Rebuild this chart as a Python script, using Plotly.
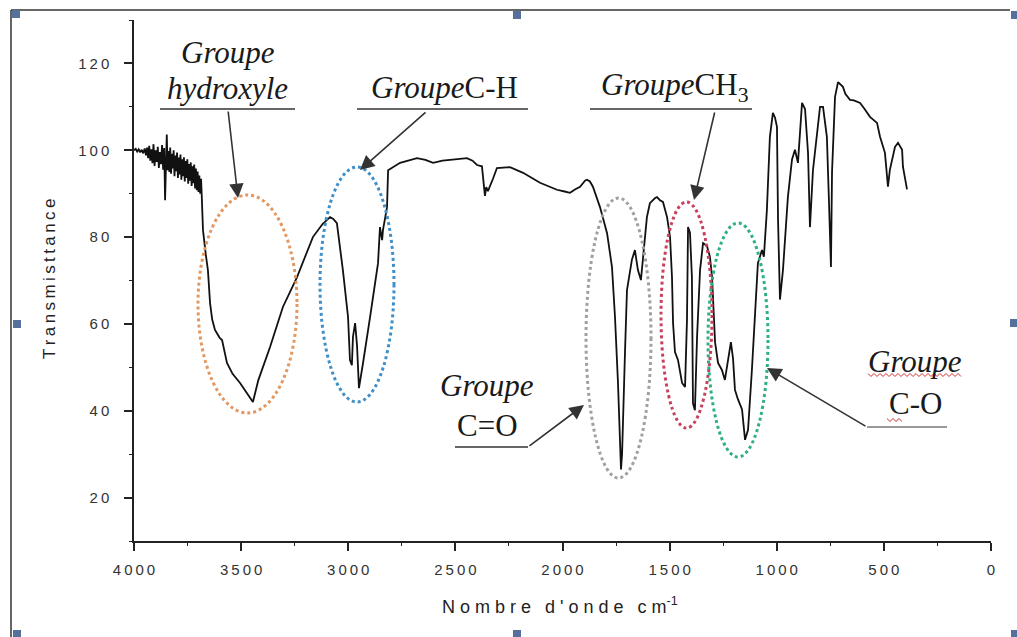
import plotly.graph_objects as go

# ---------------- data ----------------
# noisy high-wavenumber part
noise_wn = [
    4000, 3992, 3985, 3978, 3971, 3964, 3957, 3950, 3944, 3939, 3934, 3929, 3924, 3919, 3914, 3909,
    3904, 3899, 3894, 3889, 3884, 3879, 3874, 3869, 3864, 3859, 3855, 3851, 3847, 3843, 3839, 3835,
    3831, 3827, 3823, 3819, 3815, 3811, 3807, 3803, 3799, 3795, 3791, 3787, 3783, 3779, 3775, 3771,
    3767, 3763, 3759, 3755, 3751, 3747, 3743, 3739, 3735, 3731, 3727, 3723, 3719, 3715, 3711, 3707,
    3703, 3699, 3695, 3691, 3687, 3684,
]
noise_t = [
    100.0, 100.3, 99.7, 100.2, 99.5, 100.1, 99.3, 100.4, 98.8, 100.6, 98.2, 101.0, 97.6, 100.2, 97.0, 101.4,
    96.4, 100.0, 97.3, 100.8, 95.9, 99.6, 96.8, 101.2, 95.5, 100.5, 88.5, 98.0, 103.6, 95.4, 99.8, 95.0,
    100.6, 94.6, 99.2, 95.8, 100.0, 94.0, 98.8, 95.2, 99.5, 93.6, 98.3, 94.4, 99.0, 93.2, 97.9, 94.0,
    98.4, 92.8, 97.5, 93.6, 97.9, 92.3, 96.8, 93.0, 97.2, 91.8, 96.3, 92.4, 96.7, 91.2, 95.8, 90.8,
    95.1, 90.4, 94.2, 90.0, 93.4, 89.8,
]
# rest of the spectrum
body_wn = [
    3678, 3665, 3655, 3645, 3635, 3622, 3600, 3589, 3575, 3566, 3540, 3505, 3475, 3445, 3420,
    3365, 3305, 3239, 3165, 3120, 3085, 3070, 3053, 3025, 3001, 2992, 2983, 2978, 2968, 2963,
    2959, 2950, 2940, 2931, 2898, 2861, 2852, 2846, 2842, 2838, 2819, 2814, 2791, 2758, 2679,
    2640, 2604, 2560, 2525, 2480, 2446, 2420, 2399, 2376, 2368, 2362, 2356, 2348, 2324, 2306,
    2245, 2184, 2105, 2060, 2026, 1990, 1965, 1940, 1918, 1895, 1886, 1872, 1858, 1825, 1792,
    1769, 1755, 1741, 1732, 1727, 1722, 1718, 1708, 1699, 1676, 1662, 1655, 1648, 1634, 1624,
    1606, 1592, 1578, 1568, 1559, 1545, 1531, 1512, 1498, 1489, 1484, 1475, 1461, 1450, 1442,
    1428, 1419, 1414, 1405, 1396, 1391, 1382, 1372, 1358, 1344, 1326, 1312, 1302, 1288, 1274,
    1256, 1242, 1228, 1214, 1204, 1195, 1181, 1162, 1148, 1134, 1116, 1102, 1088, 1069, 1060,
    1046, 1032, 1018, 1008, 999, 994, 985, 971, 948, 929, 915, 901, 882, 868, 854, 845, 831,
    812, 798, 784, 766, 756, 747, 742, 728, 714, 691, 680, 658, 640, 611, 590, 565, 532, 518,
    495, 481, 472, 448, 434, 415, 411, 392,
]
body_t = [
    81.6, 76.0, 72.4, 64.8, 61.0, 58.6, 56.8, 56.3, 53.0, 51.0, 48.5, 46.4, 44.2, 42.0, 47.0,
    54.7, 63.9, 70.8, 80.0, 83.0, 84.6, 84.2, 83.2, 72.4, 61.6, 51.7, 50.5, 57.0, 60.2, 58.0,
    55.0, 45.2, 48.0, 51.0, 61.6, 74.0, 82.3, 80.5, 79.3, 81.6, 86.9, 95.4, 96.1, 97.1, 98.2,
    97.8, 97.1, 97.6, 97.8, 98.0, 98.2, 97.6, 96.6, 96.3, 93.0, 89.5, 91.5, 90.6, 93.5, 95.9,
    96.1, 94.8, 92.5, 91.5, 90.9, 90.5, 90.2, 91.0, 91.6, 93.0, 93.2, 92.8, 91.6, 86.9, 80.9,
    73.1, 61.6, 46.4, 33.3, 26.5, 30.0, 38.6, 54.0, 67.8, 74.8, 77.0, 75.0, 72.4, 70.1, 74.8,
    84.6, 87.8, 88.5, 89.0, 89.2, 88.5, 88.1, 84.6, 80.0, 70.8, 60.2, 53.5, 51.7, 48.0, 46.4,
    45.5, 60.9, 82.3, 81.0, 70.8, 41.7, 40.1, 57.0, 72.4, 78.6, 78.0, 75.5, 70.8, 55.8, 51.0,
    49.4, 47.1, 51.0, 55.8, 52.0, 44.8, 42.6, 40.3, 33.3, 35.6, 49.4, 60.9, 74.0, 77.0, 75.5,
    86.2, 103.1, 108.6, 107.5, 105.4, 84.0, 65.6, 72.4, 89.2, 97.8, 100.1, 97.1, 110.9, 109.5, 99.4, 82.3, 95.4,
    103.1, 110.0, 110.0, 103.1, 87.8, 73.1, 95.0, 112.3, 115.7, 114.6, 113.0, 111.6, 111.5, 110.9, 109.5, 107.7, 106.3, 103.1,
    99.4, 91.6, 95.5, 100.8, 101.7, 100.1, 96.2, 91.0,
]

x_tickvals = [4000, 3500, 3000, 2500, 2000, 1500, 1000, 500, 0]
x_ticktext = ["4\u20090\u20090\u20090", "3\u20095\u20090\u20090", "3\u20090\u20090\u20090",
              "2\u20095\u20090\u20090", "2\u20090\u20090\u20090", "1\u20095\u20090\u20090",
              "1\u20090\u20090\u20090", "5\u20090\u20090", "0"]
x_minor = [3750, 3250, 2750, 2250, 1750, 1250, 750, 250]
y_tickvals = [20, 40, 60, 80, 100, 120]
y_ticktext = ["2\u20090", "4\u20090", "6\u20090", "8\u20090", "1\u20090\u20090", "1\u20092\u20090"]
y_minor = [10, 30, 50, 70, 90, 110, 130]

x_title = "N o m b r e \u2002d ' o n d e \u2002c m<sup>-1</sup>"
y_title = "\u2009".join("Transmisttance")

wavenumber = noise_wn + body_wn
transmittance = noise_t + body_t

# ---------------- geometry helpers (pixel -> axis / paper) ----------------
W, H = 1017, 637
L, R, T, B = 134, 991, 20, 541
XMAX, XMIN, YMIN, YMAX = 4000, 0, 10, 130


def X(px):
    return XMAX - (px - L) * (XMAX - XMIN) / (R - L)


def Y(py):
    return YMAX - (py - T) * (YMAX - YMIN) / (B - T)


def PX(px):
    return (px - L) / (R - L)


def PY(py):
    return (B - py) / (B - T)


fig = go.Figure()
fig.add_trace(go.Scatter(x=wavenumber, y=transmittance, mode="lines",
                         line=dict(color="#111111", width=1.8), showlegend=False,
                         hoverinfo="skip"))
# invisible trace so the minor-tick overlay axes are drawn
fig.add_trace(go.Scatter(x=[None], y=[None], xaxis="x2", yaxis="y2", mode="lines",
                         showlegend=False, hoverinfo="skip"))

shapes = []
ellipses = [
    (198, 195, 297, 413, "#E3975E"),
    (320, 167, 394, 402, "#3F8FC8"),
    (586, 198, 651, 478, "#A0A0A0"),
    (661, 202, 712, 428, "#C8405C"),
    (708, 223, 768, 457, "#2EAF85"),
]
for x0, y0, x1, y1, c in ellipses:
    shapes.append(dict(type="circle", xref="x", yref="y", x0=X(x0), x1=X(x1), y0=Y(y1), y1=Y(y0),
                       line=dict(color=c, width=3, dash="dot")))

underlines = [
    (160, 109, 295, 109, "#333333"),
    (357, 109, 528, 109, "#333333"),
    (590, 109, 752, 109, "#333333"),
    (455, 447, 528, 447, "#333333"),
    (867, 427, 947, 427, "#777777"),
]
for x0, y0, x1, y1, c in underlines:
    shapes.append(dict(type="line", xref="x", yref="y", x0=X(x0), x1=X(x1), y0=Y(y0), y1=Y(y1),
                       line=dict(color=c, width=1.6)))


def squiggle(x0, x1, y, step=3, amp=1.5):
    pts = []
    px = x0
    up = True
    while px <= x1:
        pts.append((PX(px), PY(y - amp if up else y + amp)))
        up = not up
        px += step
    return "M " + " L ".join(f"{a:.5f},{b:.5f}" for a, b in pts)


shapes.append(dict(type="path", xref="paper", yref="paper", path=squiggle(868, 963, 375),
                   line=dict(color="#D03030", width=1)))
shapes.append(dict(type="path", xref="paper", yref="paper", path=squiggle(887, 904, 420),
                   line=dict(color="#D03030", width=1)))

shapes.append(dict(type="line", xref="paper", yref="paper", x0=PX(11), x1=PX(1010), y0=PY(10), y1=PY(10),
                   line=dict(color="#333333", width=1.5)))
shapes.append(dict(type="line", xref="paper", yref="paper", x0=PX(11), x1=PX(11), y0=PY(10), y1=PY(640),
                   line=dict(color="#333333", width=1.5)))
for hx, hy in [(16, 14), (517, 15), (1015, 15), (17, 324), (1014, 323), (17, 634), (517, 634), (1015, 634)]:
    shapes.append(dict(type="rect", xref="paper", yref="paper", x0=PX(hx - 4), x1=PX(hx + 4),
                       y0=PY(hy + 4), y1=PY(hy - 4), line=dict(width=0), fillcolor="#56709C"))

annotations = []
serif = dict(family="Liberation Serif", size=31, color="#1a1a1a")
texts = [
    ("<i>Groupe</i>", 228, 52),
    ("<i>hydroxyle</i>", 227, 88),
    ("<i>Groupe</i>C-H", 444, 87),
    ("<i>Groupe</i>CH<sub>3</sub>", 674, 87),
    ("<i>Groupe</i>", 487, 385),
    ("C=O", 487, 425),
    ("<i>Groupe</i>", 915, 361),
    ("C-O", 915, 403),
]
for t, px, py in texts:
    annotations.append(dict(text=t, x=X(px), y=Y(py), xref="x", yref="y", showarrow=False,
                            font=serif, xanchor="center", yanchor="middle"))

arrows = [
    ((228, 110), (238, 198)),
    ((427, 111), (360, 170)),
    ((715, 111), (694, 200)),
    ((528, 447), (584, 405)),
    ((867, 427), (767, 368)),
]
for (tx, ty), (hx, hy) in arrows:
    annotations.append(dict(text="", x=X(hx), y=Y(hy), ax=X(tx), ay=Y(ty), xref="x", yref="y",
                            axref="x", ayref="y", showarrow=True, arrowhead=2, arrowsize=1.8,
                            arrowwidth=1.6, arrowcolor="#333333"))

annotations.append(dict(text=y_title, x=PX(49), y=PY(279), xref="paper", yref="paper", showarrow=False,
                        textangle=-90, font=dict(family="Liberation Sans", size=17, color="#222222"),
                        xanchor="center", yanchor="middle"))
annotations.append(dict(text=x_title, x=PX(560), y=PY(605), xref="paper", yref="paper", showarrow=False,
                        font=dict(family="Liberation Sans", size=18, color="#222222"),
                        xanchor="center", yanchor="middle"))

tickfont = dict(family="Liberation Sans", size=15, color="#333333")
axis_common = dict(ticks="outside", tickcolor="#222222", showgrid=False, zeroline=False)
fig.update_layout(
    width=W, height=H,
    margin=dict(l=L, r=W - R, t=T, b=H - B, pad=0),
    paper_bgcolor="white", plot_bgcolor="white",
    shapes=shapes, annotations=annotations,
    showlegend=False,
    xaxis=dict(range=[XMAX, XMIN], tickvals=x_tickvals, ticktext=x_ticktext, ticklen=8, tickwidth=1.5,
               showline=True, linecolor="#222222", linewidth=1.5, tickfont=tickfont,
               ticklabelstandoff=6, **axis_common),
    yaxis=dict(range=[YMIN, YMAX], tickvals=y_tickvals, ticktext=y_ticktext, ticklen=8, tickwidth=1.5,
               showline=True, linecolor="#222222", linewidth=1.5, tickfont=tickfont,
               ticklabelstandoff=12, **axis_common),
    xaxis2=dict(range=[XMAX, XMIN], overlaying="x", anchor="y2", side="bottom", tickvals=x_minor,
                ticklen=4, tickwidth=1.2, showticklabels=False, showline=False, **axis_common),
    yaxis2=dict(range=[YMIN, YMAX], overlaying="y", anchor="x2", side="left", tickvals=y_minor,
                ticklen=4, tickwidth=1.2, showticklabels=False, showline=False, **axis_common),
)

fig.write_html("out.html")
